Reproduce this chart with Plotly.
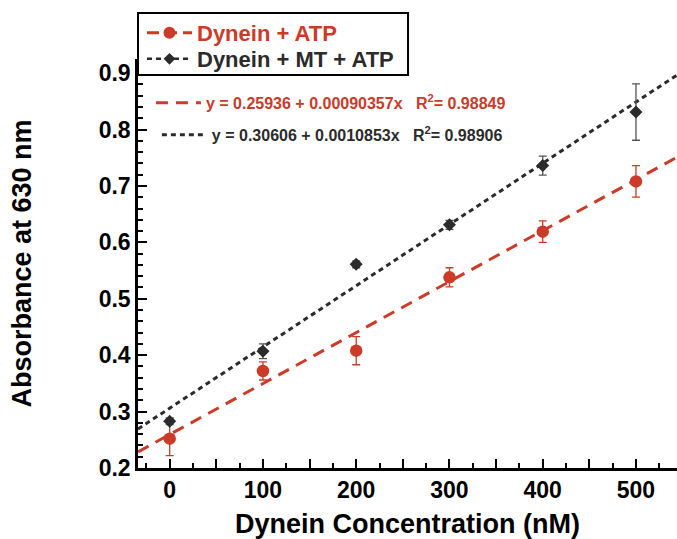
import plotly.graph_objects as go

# ---- data ----
conc = [0, 100, 200, 300, 400, 500]
atp = [0.252, 0.372, 0.408, 0.538, 0.619, 0.708]
atp_err = [0.030, 0.016, 0.025, 0.017, 0.019, 0.028]
mt_atp = [0.283, 0.407, 0.561, 0.631, 0.736, 0.831]
mt_atp_err = [0.006, 0.013, 0.006, 0.008, 0.017, 0.050]

fit_atp = (0.25936, 0.00090357, 0.98849)
fit_mt = (0.30606, 0.0010853, 0.98906)

x_range = [-34, 544]
y_range = [0.2, 0.925]
x_ticks = [0, 100, 200, 300, 400, 500]
x_half_ticks = [50, 150, 250, 350, 450]
y_ticks = [0.2, 0.3, 0.4, 0.5, 0.6, 0.7, 0.8, 0.9]

RED = "#cc3a28"
DARK = "#2b2b2b"
FONT = "Liberation Sans"

fig = go.Figure()

# fitted lines
for (a, b, r2), color, dash, leg in [
    (fit_atp, RED, "12px,8px", "legend2"),
    (fit_mt, DARK, "5px,4px", "legend3"),
]:
    xs = list(x_range)
    ys = [a + b * v for v in xs]
    name = (f'<span style="color:{color}">y = {a:g} + {b:.8g}x&nbsp;&nbsp;&nbsp;'
            f'R<sup>2</sup>= {r2:g}</span>')
    fig.add_trace(go.Scatter(x=xs, y=ys, mode="lines", name=name,
                             line=dict(color=color, width=3, dash=dash),
                             legend=leg, showlegend=True, hoverinfo="skip"))

# data points
fig.add_trace(go.Scatter(x=conc, y=atp, mode="markers", showlegend=False,
                         marker=dict(color=RED, size=12.5, symbol="circle"),
                         error_y=dict(type="data", array=atp_err, color=RED,
                                      thickness=1.3, width=4)))
fig.add_trace(go.Scatter(x=conc, y=mt_atp, mode="markers", showlegend=False,
                         marker=dict(color=DARK, size=10, symbol="diamond"),
                         error_y=dict(type="data", array=mt_atp_err, color="#555555",
                                      thickness=1.3, width=4)))

# legend entries (line + marker)
fig.add_trace(go.Scatter(x=[None], y=[None], mode="lines+markers",
                         name='<span style="color:%s">Dynein + ATP</span>' % RED,
                         line=dict(color=RED, width=3, dash="12px,6px"),
                         marker=dict(color=RED, size=12, symbol="circle"),
                         legend="legend"))
fig.add_trace(go.Scatter(x=[None], y=[None], mode="lines+markers",
                         name="Dynein + MT + ATP",
                         line=dict(color=DARK, width=2.5, dash="5px,4px"),
                         marker=dict(color=DARK, size=9, symbol="diamond"),
                         legend="legend4"))

# invisible trace on the overlay axis carrying the unlabeled 50-step ticks
fig.add_trace(go.Scatter(x=[None], y=[None], xaxis="x2", showlegend=False,
                         hoverinfo="skip"))

axis_common = dict(showline=True, linecolor="black", linewidth=2.5,
                   ticks="inside", tickcolor="black", tickwidth=2, ticklen=9,
                   showgrid=False, zeroline=False, mirror=False,
                   tickfont=dict(family=FONT, size=23, color="black", weight="bold"))

leg_common = dict(xanchor="left", yanchor="middle", bgcolor="rgba(0,0,0,0)",
                  borderwidth=0, itemwidth=45)

fig.update_layout(
    width=677, height=539,
    margin=dict(l=138, r=0, t=59, b=71),
    paper_bgcolor="white", plot_bgcolor="white",
    font=dict(family=FONT, color="black"),
    xaxis=dict(range=x_range, tickvals=x_ticks,
               minor=dict(dtick=25, tick0=0, ticks="inside", ticklen=5, tickwidth=2, tickcolor="black"),
               title=dict(text="Dynein Concentration (nM)", standoff=14,
                          font=dict(family=FONT, size=27, weight="bold", color="black")),
               **axis_common),
    xaxis2=dict(overlaying="x", side="bottom", range=x_range, tickvals=x_half_ticks,
                showticklabels=False, showline=False, ticks="inside",
                tickcolor="black", tickwidth=2, ticklen=9, showgrid=False,
                zeroline=False),
    yaxis=dict(range=y_range, tickvals=y_ticks, tickformat=".1f",
               minor=dict(dtick=0.02, tick0=0.2, ticks="inside", ticklen=5, tickwidth=2, tickcolor="black"),
               title=dict(text="Absorbance at 630 nm", standoff=60,
                          font=dict(family=FONT, size=27, weight="bold", color="black")),
               **axis_common),
    legend=dict(x=0.0074, y=1.0635,
                font=dict(family=FONT, size=22, weight="bold", color=DARK), **leg_common),
    legend4=dict(x=0.0074, y=1.0,
                 font=dict(family=FONT, size=22, weight="bold", color=DARK), **leg_common),
    legend2=dict(x=0.024, y=0.8926,
                 font=dict(family=FONT, size=16, weight="bold"), **leg_common),
    legend3=dict(x=0.035, y=0.8144,
                 font=dict(family=FONT, size=16, weight="bold"), **leg_common),
    shapes=[dict(type="rect", xref="paper", yref="paper",
                 x0=0, x1=0.501, y0=0.961, y1=1.1123,
                 line=dict(color="black", width=2), fillcolor="white", layer="above")],
)

fig.write_html("out.html")
